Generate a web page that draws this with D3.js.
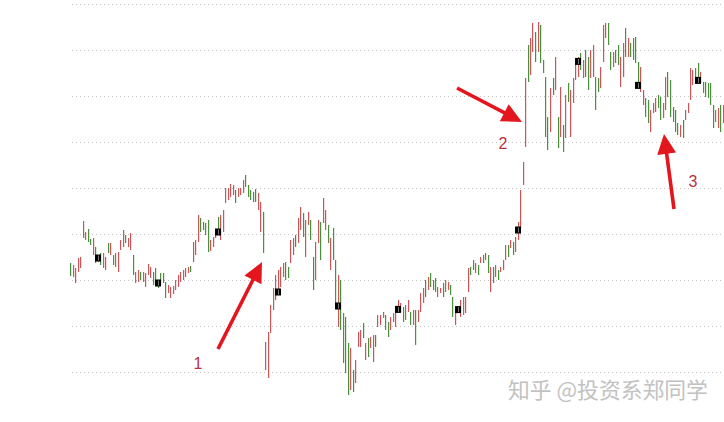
<!DOCTYPE html>
<html>
<head>
<meta charset="utf-8">
<script src="https://cdn.jsdelivr.net/npm/d3@7/dist/d3.min.js"></script>
<style>
html,body{margin:0;padding:0;background:#fff;}
svg{display:block;}
</style>
</head>
<body>
<script>
// ---- data (price units; no axis labels in the original) ----
const highs = [
93.5,92.5,91,96,96.5,114.5,109,110.5,105.5,106,
101.5,97.5,98.5,98.5,96.5,103.5,103.5,97.5,98.5,99,
105,110,107.5,106,108.5,97.5,89,90,89,89,
88.5,93,91.5,89,91,84,88.5,88.5,84,82.5,
81.5,82,85,87.5,89,90,91,91.5,92,104,
105,117.5,116,114,113.5,115,105,106.5,110,116.5,
117.5,120,131,131,133,132.5,130,131,131,135,
137.5,132.5,130,129,130.5,128.5,124,119,54,59,
72.5,81,87.5,90,91.5,93.5,94,91.5,105,106,
107.5,116,121.5,118.5,115,119,115,96.5,104,115,
114,126,120,112.5,106,111,95,87.5,85,68.5,
66.5,53.5,51,40,45,59,60,63.5,53.5,56,
56.5,57.5,57.5,67.5,67.5,69,67.5,64,66.5,68.5,
69,75,73.5,71.5,72.5,75,69,70,70,70,
78.5,81,85,86.5,88.5,85,86,81.5,81,83.5,
85,84,82.5,76.5,71,71.5,75,76.5,76.5,91,
91.5,95,93.5,92.5,96.5,97.5,98.5,97.5,91.5,91.5,
92.5,90,91.5,95,102.5,102.5,105,104,106.5,114,
130,144,186,202.5,206,213.5,209,214,212.5,195,
186.5,166.5,181,186,196.5,166.5,181.5,162.5,177.5,183.5,
180,186,195,196.5,198.5,195,200,196.5,200,202.5,
186.5,186,191.5,212.5,213.5,213.5,199,199,200,202.5,
196.5,203.5,211,206,203.5,206,206.5,194,191.5,180,
176,175,170,173.5,176,177.5,176.5,173.5,186.5,189,
185,171.5,170,163.5,162.5,165,170,173.5,191,190,
191,193.5,189,184,184,183.5,183.5,172.5,170,171,
172.5,172.5
];
const lows = [
87,86.5,83.5,89,91,106,105,104,102.5,97.5,
93.5,94,92.5,91,90,98.5,97.5,92.5,91.5,89,
100,101.5,103.5,101.5,100,87.5,83.5,84,85,84,
81.5,87.5,86,82.5,84,81,82.5,83.5,76,78.5,
76,78,80,81.5,84,85,86.5,88.5,89,94,
97.5,104,109,110,107.5,99,99.5,101.5,106,109,
105,109,123.5,125,126.5,127.5,123.5,126.5,127.5,128.5,
131.5,126.5,125,124,124,120,109,98.5,40,36,
58.5,70,75,78.5,81.5,86.5,85,86,93.5,97.5,
101.5,103.5,110,106.5,96.5,112.5,105,80,85,103.5,
95,113.5,110,103.5,90,95,72.5,61.5,60,43.5,
38.5,27.5,30,29,33.5,51.5,51.5,56,45,46.5,
51,44,51.5,61.5,62.5,66,60,56.5,60,64,
61.5,69,69,64,65,69,62.5,62.5,52.5,64,
69,73.5,76.5,80,81.5,80,79,76.5,78.5,76.5,
79,80,77.5,66.5,62.5,68.5,66.5,67.5,68.5,79,
87.5,90,88.5,87.5,93.5,93.5,95,88.5,79,83.5,
86.5,85,89,90,95,96.5,101,97.5,99,105,
111,132.5,151.5,184,187.5,199,194,199,193.5,188.5,
156.5,150,159,177.5,180,151,156.5,149,156,174,
156.5,173.5,185,186.5,190,186,186.5,180,186,186.5,
170,179,181,194,206,202.5,190,191.5,193.5,192.5,
181.5,186.5,196.5,196.5,196.5,195,193.5,182.5,179,172.5,
166.5,163.5,159,168.5,169,171,165,166,170,176.5,
166.5,164,159,157.5,156.5,156,165,168.5,175,182.5,
185,185,183.5,178.5,176.5,176,172.5,161,164,161,
159,163.5
];
// R = rising (red), G = falling (green)
const dirs = ("GRRRRRRGGR" + "GRGRRGRGRR" + "RRGRRGRRGR" + "RRRGGGGGGR" + "RRRRRRRRGR" +
  "RRGGGGRRRG" + "RRRRRRGRRR" + "GGGGGRRGRR" + "RRRRRRGGRR" + "GRRGRRGGRR" +
  "GRRGRGGRGG" + "GGRGRRRGRG" + "RRGRRRGGRR" + "RRRGRRGRGR" + "RRGRGGGRRG" +
  "RRGGRGRRRR" + "GGRGRGRGRG" + "RGRRRGRGRR" + "RRRGRRGRGG" + "GGRGRGRGRG" +
  "RRRRGRGGRR" + "GGRRRGGRGG" + "RRGRGGGGRR" + "GGRRRGGRRG" + "GGGGRGRRRR" +
  "GGRGGGGGRR" + "GR").split("");
const markerIdx = [11, 35, 59, 83, 107, 131, 155, 179, 203, 227, 251];
const markerVals = [96, 83.5, 109, 79, 72, 70.3, 70.2, 110, 194.3, 182.3, 184.8];
const gridVals = [223, 200, 177, 154, 131, 108, 85, 62, 39];
const annotations = [
  {label: "1", tipI: 76.8, tipV: 94, tailI: 59.2, tailV: 50.5, labI: 51.2, labV: 43.5},
  {label: "2", tipI: 180.8, tipV: 164, tailI: 154.8, tailV: 181, labI: 173.2, labV: 153.5},
  {label: "3", tipI: 237.6, tipV: 158, tailI: 241.6, tailV: 120.5, labI: 249.2, labV: 134.5}
];
const watermark = "知乎 @投资系郑同学";

// ---- drawing ----
const W = 724, H = 422;
const svg = d3.select("body").append("svg").attr("width", W).attr("height", H);
svg.append("rect").attr("width", W).attr("height", H).attr("fill", "#fff");

const x = d3.scaleLinear().domain([0, highs.length - 1]).range([70, 70 + 2.5 * (highs.length - 1)]);
const y = d3.scaleLinear().domain([16, 223]).range([418, 4]);

// dotted grid
svg.append("g").selectAll("line").data(gridVals).join("line")
  .attr("x1", 72).attr("x2", W)
  .attr("y1", d => Math.round(y(d)) + 0.5).attr("y2", d => Math.round(y(d)) + 0.5)
  .attr("stroke", "#c4c4c4").attr("stroke-width", 1).attr("stroke-dasharray", "1,3");

const RED = "#c9575a", GREEN = "#4a8f3c";
const idx = d3.range(highs.length);
svg.append("g").selectAll("rect").data(idx).join("rect")
  .attr("x", i => Math.round(x(i)))
  .attr("width", 1.2)
  .attr("y", i => y(highs[i]))
  .attr("height", i => Math.max(1, y(lows[i]) - y(highs[i])))
  .attr("fill", i => dirs[i] === "R" ? RED : GREEN);

// black markers
const mg = svg.append("g");
markerIdx.forEach((mi, k) => {
  const cx = Math.round(x(mi)), cy = y(markerVals[k]);
  mg.append("rect").attr("x", cx - 3).attr("y", cy - 3.5).attr("width", 6).attr("height", 7).attr("fill", "#000");
  mg.append("rect").attr("x", cx).attr("y", cy - 2.5).attr("width", 0.8).attr("height", 5).attr("fill", "#fff").attr("opacity", 0.6);
});

// red arrows + labels
const AR = "#e3161e";
const ag = svg.append("g");
annotations.forEach(a => {
  const tx = x(a.tipI), ty = y(a.tipV), sx = x(a.tailI), sy = y(a.tailV);
  const dx = tx - sx, dy = ty - sy, len = Math.hypot(dx, dy);
  const ux = dx / len, uy = dy / len, px = -uy, py = ux;
  const hl = 20, hw = 9.5;
  const bx = tx - ux * hl, by = ty - uy * hl;
  ag.append("line").attr("x1", sx).attr("y1", sy).attr("x2", bx + ux * 2).attr("y2", by + uy * 2)
    .attr("stroke", AR).attr("stroke-width", 3.6).attr("stroke-linecap", "butt");
  ag.append("path")
    .attr("d", `M${tx},${ty}L${bx + px * hw},${by + py * hw}L${bx - px * hw},${by - py * hw}Z`)
    .attr("fill", AR);
  ag.append("text").attr("x", x(a.labI)).attr("y", y(a.labV))
    .attr("text-anchor", "middle").attr("dominant-baseline", "central")
    .attr("font-family", "'Liberation Sans', Arial, sans-serif").attr("font-size", 16)
    .attr("fill", "#b9323e").text(a.label);
});

// watermark
svg.append("text").attr("x", 508).attr("y", 398)
  .attr("font-family", "'Noto Sans CJK SC', sans-serif").attr("font-size", 21.8)
  .attr("fill", "#c2c2c2").text(watermark);
</script>
</body>
</html>
